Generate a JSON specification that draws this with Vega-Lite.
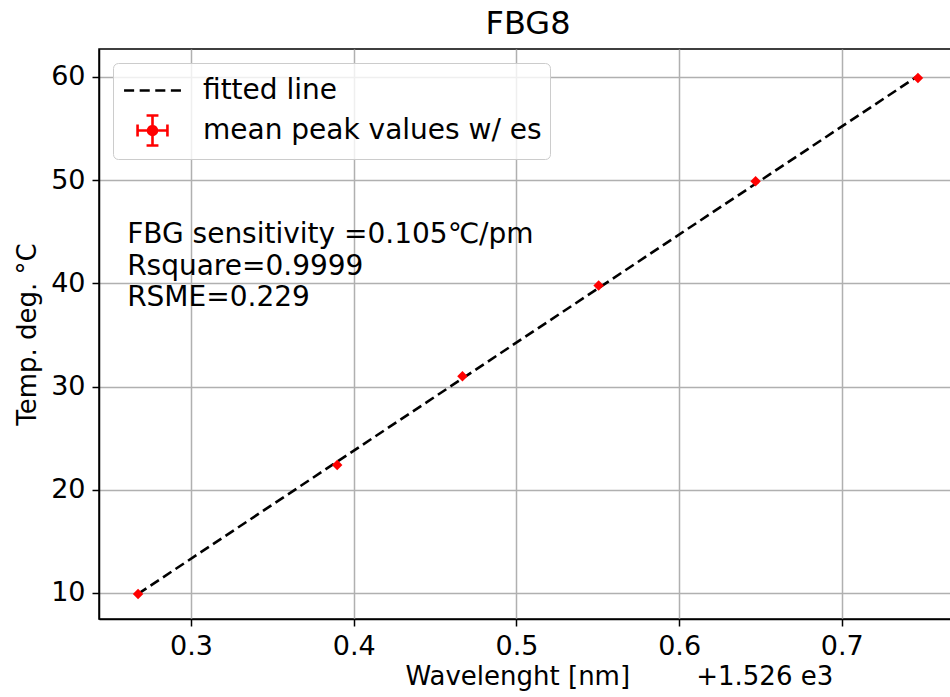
{
  "$schema": "https://vega.github.io/schema/vega-lite/v6.json",
  "autosize": {"type": "none"},
  "padding": {"left": 99, "top": 49, "right": 0, "bottom": 78},
  "width": 858,
  "height": 570,
  "background": "white",
  "title": {"text": "FBG8", "fontSize": 32, "font": "DejaVu Sans", "fontWeight": "normal", "color": "#000000", "anchor": "middle", "frame": "group", "baseline": "bottom", "offset": -26},
  "config": {
    "font": "DejaVu Sans",
    "view": {"stroke": "#000000", "strokeWidth": 1.5},
    "axis": {
      "labelFont": "DejaVu Sans", "labelFontSize": 27, "labelColor": "#000000",
      "titleFont": "DejaVu Sans", "titleFontSize": 26, "titleFontWeight": "normal", "titleColor": "#000000",
      "gridColor": "#b0b0b0", "gridWidth": 1.5, "gridOpacity": 1,
      "domainColor": "#000000", "domainWidth": 1.5,
      "tickColor": "#000000", "tickWidth": 1.5, "tickSize": 7, "labelPadding": 7
    }
  },
  "datasets": {
    "points": [
      {"wavelength": 0.2674, "temp": 9.9},
      {"wavelength": 0.3898, "temp": 22.4},
      {"wavelength": 0.4668, "temp": 31.0},
      {"wavelength": 0.5505, "temp": 39.8},
      {"wavelength": 0.647, "temp": 49.9},
      {"wavelength": 0.7468, "temp": 59.9}
    ],
    "fit": [
      {"wavelength": 0.2674, "temp": 9.91},
      {"wavelength": 0.7468, "temp": 60.1}
    ],
    "legend": [
      {"series": "fitted line"},
      {"series": "mean peak values w/ es"}
    ],
    "note": [
      {"wavelength": 0.2607, "temp": 43.9, "text": ["FBG sensitivity =0.105℃/pm", "Rsquare=0.9999", "RSME=0.229"]}
    ]
  },
  "encoding": {
    "x": {"field": "wavelength", "type": "quantitative",
      "scale": {"domain": [0.2434, 0.7708], "zero": false, "nice": false},
      "axis": {"values": [0.3, 0.4, 0.5, 0.6, 0.7], "format": ".1f", "title": "Wavelenght [nm]\u00a0\u00a0\u00a0\u00a0\u00a0\u00a0\u00a0\u00a0+1.526\u00a0e3", "titleAlign": "left", "titleAnchor": "start", "titleX": 306, "titlePadding": 4, "grid": true}},
    "y": {"field": "temp", "type": "quantitative",
      "scale": {"domain": [7.48, 62.71], "zero": false, "nice": false},
      "axis": {"values": [10, 20, 30, 40, 50, 60], "format": "d", "title": "Temp. deg. °C", "titlePadding": 10, "grid": true}}
  },
  "layer": [
    {
      "data": {"name": "fit"},
      "mark": {"type": "line", "color": "#000000", "strokeWidth": 2.6, "strokeDash": [10, 5]}
    },
    {
      "data": {"name": "points"},
      "mark": {"type": "point", "shape": "diamond", "filled": true, "color": "#ff0000", "size": 110, "opacity": 1}
    },
    {
      "data": {"name": "note"},
      "mark": {"type": "text", "align": "left", "baseline": "alphabetic", "fontSize": 28, "lineHeight": 31.5, "color": "#000000", "font": "DejaVu Sans"},
      "encoding": {"text": {"field": "text"}}
    },
    {
      "data": {"name": "legend"},
      "mark": {"type": "point", "filled": true, "opacity": 0},
      "encoding": {
        "x": {"value": 0},
        "y": {"value": 0},
        "color": {"field": "series", "type": "nominal",
          "scale": {"domain": ["fitted line", "mean peak values w/ es"], "range": ["#000000", "#ff0000"]},
          "legend": {"title": null, "orient": "top-left", "offset": 14, "padding": 8, "symbolOffset": 12,
            "fillColor": "rgba(255,255,255,0.8)", "strokeColor": "#cccccc", "cornerRadius": 5,
            "labelFontSize": 28, "labelFont": "DejaVu Sans", "labelColor": "#000000", "labelOffset": 31, "labelLimit": 600,
            "symbolSize": 1296, "symbolStrokeWidth": 2.6, "symbolOpacity": 1, "rowPadding": 5,
            "encode": {"symbols": {"update": {"fill": {"scale": "color", "field": "value"}, "stroke": {"scale": "color", "field": "value"}, "opacity": {"value": 1}, "fillOpacity": {"value": 1}, "strokeOpacity": {"value": 1}}}}}},
        "shape": {"field": "series", "type": "nominal",
          "scale": {"domain": ["fitted line", "mean peak values w/ es"], "range": ["M-1.58,0H-1.02M-0.713,0H-0.153M0.153,0H0.713M1.02,0H1.58", "M-0.83,0H0.83M0,-0.83V0.83M-0.83,-0.33V0.33M0.83,-0.33V0.33M-0.33,-0.83H0.33M-0.33,0.83H0.33M0.25,0A0.25,0.25,0,1,1,-0.25,0A0.25,0.25,0,1,1,0.25,0Z"]},
          "legend": {"title": null}}
      }
    }
  ]
}
